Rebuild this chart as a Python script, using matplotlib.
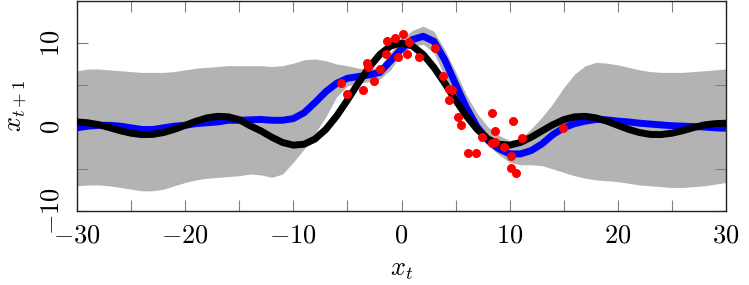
import matplotlib
matplotlib.use("Agg")
import matplotlib.pyplot as plt
import numpy as np

plt.rcParams['mathtext.fontset'] = 'cm'
plt.rcParams['font.size'] = 19

# grid of x positions (read every 1 unit)
xs = list(range(-30, 31))

# black line (true function)
true_y = [0.6, 0.5, 0.28, -0.07, -0.44, -0.74, -0.9, -0.88, -0.66, -0.28,
          0.2, 0.69, 1.08, 1.27, 1.21, 0.87, 0.15, -0.46, -1.21, -1.84,
          -2.16, -2.05, -1.43, -0.29, 1.3, 3.2, 5.21, 7.09, 8.64, 9.65,
          10.0,
          9.65, 8.64, 7.09, 5.21, 3.2, 1.3, -0.29, -1.43, -2.05, -2.16,
          -1.84, -1.21, -0.46, 0.28, 0.87, 1.21, 1.27, 1.08, 0.69, 0.2,
          -0.28, -0.66, -0.88, -0.9, -0.74, -0.44, -0.07, 0.25, 0.4, 0.45]

# blue line (gp mean)
mean_y = [-0.1, 0.1, 0.2, 0.2, 0.1, -0.1, -0.3, -0.3, -0.1, 0.1,
          0.2, 0.4, 0.5, 0.6, 0.8, 0.8, 0.85, 0.9, 0.8, 0.8,
          1.0, 1.7, 2.9, 4.2, 5.2, 5.8, 6.0, 6.2, 6.5, 7.9,
          9.3, 10.4, 10.8, 10.2, 8.0, 5.1, 2.3, 0.0, -1.6, -2.6,
          -3.2, -3.2, -2.8, -2.0, -0.9, -0.1, 0.4, 0.7, 0.9, 0.85,
          0.7, 0.6, 0.45, 0.35, 0.25, 0.15, 0.1, 0.05, 0.0, -0.1,
          -0.15]

# grey band
upper_y = [6.7, 6.9, 6.9, 6.8, 6.7, 6.6, 6.5, 6.5, 6.5, 6.6,
           6.8, 7.0, 7.1, 7.2, 7.3, 7.3, 7.3, 7.3, 7.2, 7.3,
           7.6, 8.0, 8.1, 7.9, 7.5, 7.3, 7.0, 6.9, 7.2, 8.9,
           10.5, 11.5, 12.0, 11.4, 9.2, 6.6, 3.8, 1.6, 0.0, -1.0,
           -1.6, -1.4, -0.2, 1.2, 2.8, 4.7, 6.3, 7.3, 7.7, 7.6,
           7.4, 7.1, 6.8, 6.6, 6.5, 6.5, 6.5, 6.6, 6.7, 6.8,
           6.9]
lower_y = [-7.0, -6.9, -6.9, -7.0, -7.2, -7.4, -7.6, -7.6, -7.4, -7.0,
           -6.6, -6.3, -6.1, -6.0, -5.9, -5.8, -5.6, -5.7, -6.0, -5.6,
           -4.2, -2.6, -0.8, 1.2, 3.6, 4.9, 5.2, 5.4, 5.7, 6.8,
           8.8, 9.6, 9.85, 8.8, 6.0, 3.1, 0.8, -0.8, -2.2, -3.3,
           -4.2, -4.5, -4.5, -4.6, -5.0, -5.4, -5.8, -6.1, -6.3, -6.4,
           -6.5, -6.7, -6.9, -7.0, -7.1, -7.2, -7.2, -7.1, -7.0, -6.8,
           -6.6]

# observations
obs_x = [-5.59, -5.07, -3.59, -3.16, -3.1, -2.54, -1.99, -1.43, -1.37, -0.57,
         -0.30, 0.17, 0.48, 0.71, 1.62, 3.12, 3.86, 4.41, 4.64, 4.39,
         5.18, 5.50, 6.13, 6.89, 7.44, 8.34, 8.66, 8.34, 8.64, 9.47,
         10.28, 10.12, 10.10, 10.61, 11.11, 14.96]
obs_y = [5.21, 3.91, 4.44, 7.56, 7.2, 5.53, 6.91, 8.67, 10.18, 10.62,
         8.38, 11.09, 8.67, 10.14, 8.35, 9.45, 6.12, 4.53, 4.44, 3.18,
         1.14, 0.21, -3.06, -3.06, -1.18, 1.65, -0.45, -1.92, -1.73, -2.39,
         0.74, -3.41, -4.94, -5.45, -1.33, -0.15]

xticks = [-30, -20, -10, 0, 10, 20, 30]
xminor = [-25, -15, -5, 5, 15, 25]
yticks = [-10, 0, 10]
yminor = [-5, 5]

fig = plt.figure(figsize=(7.49, 2.85), dpi=100)
ax = fig.add_axes([77/749, 1-211/285, 649/749, 210/285])

ax.fill_between(xs, lower_y, upper_y, color='#b3b3b3', lw=0, zorder=1)
ax.plot(xs, mean_y, color='#0000ff', lw=5, solid_capstyle='butt', zorder=2)
ax.plot(xs, true_y, color='black', lw=5, solid_capstyle='butt', zorder=3)
ax.plot(obs_x, obs_y, 'o', color='#ff0000', ms=6.5, mec='none', zorder=4)

ax.set_xlim(-30, 30)
ax.set_ylim(-10, 15)

ax.set_xticks(xticks)
ax.set_xticklabels([r'$%d$' % v for v in xticks])
ax.set_xticks(xminor, minor=True)
ax.set_yticks(yticks)
ax.set_yticklabels([r'$%d$' % v for v in yticks])
ax.set_yticks(yminor, minor=True)

ax.tick_params(which='both', direction='in', length=8, width=0.8,
               color='#808080', top=True, right=True)
ax.tick_params(axis='x', pad=8)
ax.tick_params(axis='y', pad=9, labelrotation=90)
plt.setp(ax.get_yticklabels(), va='center')

for s in ax.spines.values():
    s.set_color('#222222')
    s.set_linewidth(1.0)

ax.set_xlabel(r'$x_t$')
ax.xaxis.set_label_coords(0.5, -0.215)
ax.set_ylabel(r'$x_{t+1}$')
ax.yaxis.set_label_coords(-0.074, 0.5)

fig.savefig('out.png', dpi=100)
